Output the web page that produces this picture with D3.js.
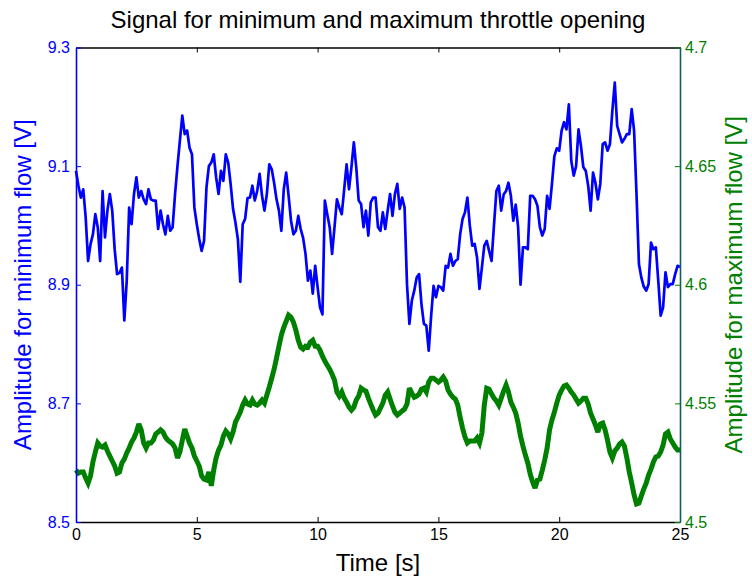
<!DOCTYPE html>
<html>
<head>
<meta charset="utf-8">
<script src="https://cdn.jsdelivr.net/npm/d3@7"></script>
<style>
  html, body { margin: 0; padding: 0; background: #fff; }
  svg { display: block; font-family: "Liberation Sans", Arial, Helvetica, sans-serif; }
</style>
</head>
<body>
<svg id="chart" width="752" height="577"></svg>
<script>
// Sampling step of both recorded signals [s]
const sampleStep = 0.1;

// Signal amplitude at minimum throttle opening [V], one value per 0.1 s from 0 to 25 s
const minFlow = [
  9.092, 9.067, 9.047, 9.061, 9.014, 8.940, 8.968, 8.985, 9.019, 8.997,
  8.940, 9.058, 8.980, 9.025, 9.053, 9.025, 8.960, 8.918, 8.920, 8.929,
  8.840, 8.907, 9.030, 9.002, 9.053, 9.081, 9.047, 9.058, 9.044, 9.036,
  9.061, 9.044, 9.042, 9.042, 8.994, 9.025, 9.002, 8.985, 9.016, 8.991,
  8.997, 9.053, 9.100, 9.143, 9.185, 9.154, 9.160, 9.131, 9.120, 9.030,
  9.002, 8.977, 8.957, 8.974, 9.064, 9.100, 9.106, 9.120, 9.081, 9.053,
  9.092, 9.075, 9.120, 9.106, 9.070, 9.028, 9.005, 8.977, 8.905, 9.002,
  9.011, 9.046, 9.047, 9.067, 9.042, 9.058, 9.087, 9.050, 9.025, 9.053,
  9.103, 9.095, 9.072, 9.044, 9.025, 8.991, 9.061, 9.089, 9.050, 9.008,
  8.985, 8.991, 9.016, 8.994, 8.979, 8.952, 8.907, 8.924, 8.885, 8.932,
  8.896, 8.862, 8.850, 9.042, 9.019, 8.997, 8.952, 8.997, 9.044, 9.030,
  9.019, 9.061, 9.103, 9.061, 9.098, 9.140, 9.098, 9.042, 9.036, 8.997,
  9.025, 8.983, 9.039, 9.047, 9.047, 8.997, 8.991, 9.022, 8.994, 9.025,
  9.053, 9.016, 9.053, 9.070, 9.028, 9.047, 9.030, 8.901, 8.834, 8.873,
  8.890, 8.912, 8.918, 8.867, 8.834, 8.831, 8.789, 8.848, 8.898, 8.879,
  8.898, 8.896, 8.890, 8.932, 8.929, 8.952, 8.932, 8.940, 8.943, 8.985,
  9.011, 9.022, 9.047, 9.000, 8.966, 8.969, 8.946, 8.893, 8.929, 8.966,
  8.974, 8.957, 8.940, 9.000, 9.058, 9.067, 9.025, 9.052, 9.058, 9.072,
  9.050, 9.008, 9.035, 8.997, 8.900, 8.963, 8.963, 8.960, 9.050, 9.050,
  9.044, 9.033, 8.997, 8.983, 8.994, 9.050, 9.028, 9.070, 9.117, 9.130,
  9.126, 9.160, 9.174, 9.162, 9.204, 9.109, 9.084, 9.100, 9.162, 9.134,
  9.098, 9.092, 9.067, 9.025, 9.089, 9.072, 9.044, 9.070, 9.137, 9.140,
  9.126, 9.137, 9.193, 9.241, 9.168, 9.154, 9.140, 9.146, 9.154, 9.154,
  9.196, 9.160, 9.053, 8.935, 8.912, 8.897, 8.890, 8.901, 8.971, 8.960,
  8.963, 8.907, 8.848, 8.862, 8.921, 8.896, 8.901, 8.901, 8.918, 8.932,
  8.930
];

// Signal amplitude at maximum throttle opening [V], one value per 0.1 s from 0 to 25 s
const maxFlow = [
  4.5219, 4.5206, 4.5211, 4.5211, 4.5185, 4.5164, 4.5194, 4.5253, 4.5295, 4.5333,
  4.5320, 4.5316, 4.5324, 4.5299, 4.5278, 4.5257, 4.5236, 4.5206, 4.5211, 4.5249,
  4.5265, 4.5291, 4.5312, 4.5337, 4.5354, 4.5379, 4.5413, 4.5388, 4.5333, 4.5312,
  4.5333, 4.5333, 4.5345, 4.5371, 4.5379, 4.5388, 4.5379, 4.5358, 4.5345, 4.5337,
  4.5329, 4.5312, 4.5270, 4.5295, 4.5345, 4.5392, 4.5362, 4.5333, 4.5312, 4.5278,
  4.5257, 4.5236, 4.5194, 4.5181, 4.5177, 4.5211, 4.5152, 4.5219, 4.5270, 4.5303,
  4.5324, 4.5362, 4.5383, 4.5371, 4.5350, 4.5379, 4.5421, 4.5442, 4.5463, 4.5493,
  4.5514, 4.5497, 4.5493, 4.5514, 4.5497, 4.5493, 4.5501, 4.5514, 4.5501, 4.5535,
  4.5569, 4.5606, 4.5644, 4.5691, 4.5741, 4.5788, 4.5821, 4.5846, 4.5872, 4.5863,
  4.5842, 4.5809, 4.5766, 4.5737, 4.5729, 4.5741, 4.5737, 4.5758, 4.5766, 4.5741,
  4.5741, 4.5724, 4.5699, 4.5678, 4.5661, 4.5644, 4.5623, 4.5598, 4.5548, 4.5531,
  4.5548, 4.5522, 4.5505, 4.5484, 4.5472, 4.5484, 4.5514, 4.5531, 4.5564, 4.5556,
  4.5552, 4.5522, 4.5497, 4.5472, 4.5451, 4.5459, 4.5480, 4.5501, 4.5535, 4.5548,
  4.5518, 4.5489, 4.5463, 4.5451, 4.5459, 4.5468, 4.5476, 4.5497, 4.5564, 4.5543,
  4.5526, 4.5531, 4.5539, 4.5560, 4.5564, 4.5548, 4.5590, 4.5606, 4.5606, 4.5598,
  4.5590, 4.5598, 4.5611, 4.5594, 4.5556, 4.5539, 4.5526, 4.5518, 4.5493, 4.5442,
  4.5396, 4.5358, 4.5333, 4.5341, 4.5341, 4.5341, 4.5354, 4.5333, 4.5375, 4.5493,
  4.5564, 4.5560, 4.5539, 4.5522, 4.5510, 4.5493, 4.5522, 4.5552, 4.5577, 4.5548,
  4.5505, 4.5484, 4.5459, 4.5417, 4.5362, 4.5320, 4.5282, 4.5249, 4.5202, 4.5169,
  4.5143, 4.5177, 4.5181, 4.5219, 4.5261, 4.5312, 4.5388, 4.5430, 4.5463, 4.5501,
  4.5535, 4.5556, 4.5573, 4.5577, 4.5564, 4.5548, 4.5535, 4.5518, 4.5501, 4.5510,
  4.5522, 4.5522, 4.5497, 4.5459, 4.5434, 4.5409, 4.5379, 4.5413, 4.5417, 4.5388,
  4.5345, 4.5295, 4.5270, 4.5299, 4.5312, 4.5329, 4.5337, 4.5320, 4.5270, 4.5211,
  4.5164, 4.5114, 4.5076, 4.5080, 4.5110, 4.5139, 4.5164, 4.5198, 4.5223, 4.5253,
  4.5274, 4.5278, 4.5295, 4.5324, 4.5371, 4.5379, 4.5350, 4.5333, 4.5316, 4.5303,
  4.5303
];

// Axis ticks and their labels
const timeTicks = [0, 5, 10, 15, 20, 25];
const minTicks = [8.5, 8.7, 8.9, 9.1, 9.3];
const minTickLabels = ["8.5", "8.7", "8.9", "9.1", "9.3"];
const maxTicks = [4.5, 4.55, 4.6, 4.65, 4.7];
const maxTickLabels = ["4.5", "4.55", "4.6", "4.65", "4.7"];

const titleText = "Signal for minimum and maximum throttle opening";
const xTitle = "Time [s]";
const yLeftTitle = "Amplitude for minimum flow [V]";
const yRightTitle = "Amplitude for maximum flow [V]";

const BLUE = "#0000ff";
const GREEN = "#008000";
const EDGE = "#0d5d62";

const plot = { left: 76, right: 680, top: 47.5, bottom: 522 };

const svg = d3.select("#chart");

const x = d3.scaleLinear().domain([0, 25]).range([plot.left, plot.right]);
const yL = d3.scaleLinear().domain([8.5, 9.3]).range([plot.bottom, plot.top]);
const yR = d3.scaleLinear().domain([4.5, 4.7]).range([plot.bottom, plot.top]);

const t = i => i * sampleStep;

// Signal traces
const lineL = d3.line().x((d, i) => x(t(i))).y(d => yL(d));
const lineR = d3.line().x((d, i) => x(t(i))).y(d => yR(d));

svg.append("path")
  .datum(maxFlow)
  .attr("d", lineR)
  .attr("fill", "none")
  .attr("stroke", GREEN)
  .attr("stroke-width", 5)
  .attr("stroke-linejoin", "miter")
  .attr("stroke-miterlimit", 3);

svg.append("path")
  .datum(minFlow)
  .attr("d", lineL)
  .attr("fill", "none")
  .attr("stroke", BLUE)
  .attr("stroke-width", 2.7)
  .attr("stroke-linejoin", "round");

// Axes: ticks drawn inward
const tickFont = 16;
const font = "Liberation Sans, Arial, sans-serif";

const gBottom = svg.append("g")
  .attr("transform", `translate(0,${plot.bottom})`)
  .call(d3.axisBottom(x).tickValues(timeTicks).tickFormat(d3.format("d"))
    .tickSizeInner(-5).tickSizeOuter(0).tickPadding(7));
gBottom.select(".domain").attr("stroke", "#000").attr("stroke-width", 1.3);
gBottom.selectAll(".tick line").attr("stroke", "#000");
gBottom.selectAll(".tick text").attr("fill", "#000").attr("font-size", tickFont)
  .attr("font-family", font);

const gTop = svg.append("g")
  .attr("transform", `translate(0,${plot.top})`)
  .call(d3.axisTop(x).tickValues(timeTicks).tickFormat("")
    .tickSizeInner(-5).tickSizeOuter(0));
gTop.select(".domain").attr("stroke", "#000").attr("stroke-width", 1.3);
gTop.selectAll(".tick line").attr("stroke", "#000");

const gLeft = svg.append("g")
  .attr("transform", `translate(${plot.left},0)`)
  .call(d3.axisLeft(yL).tickValues(minTicks).tickFormat((d, i) => minTickLabels[i])
    .tickSizeInner(-5).tickSizeOuter(0).tickPadding(6));
gLeft.select(".domain").attr("stroke", BLUE).attr("stroke-width", 1.6);
gLeft.selectAll(".tick line").attr("stroke", BLUE);
gLeft.selectAll(".tick text").attr("fill", BLUE).attr("font-size", tickFont)
  .attr("font-family", font);

const gRight = svg.append("g")
  .attr("transform", `translate(${plot.right},0)`)
  .call(d3.axisRight(yR).tickValues(maxTicks).tickFormat((d, i) => maxTickLabels[i])
    .tickSizeInner(-5).tickSizeOuter(0).tickPadding(5));
gRight.select(".domain").attr("stroke", EDGE).attr("stroke-width", 1.6);
gRight.selectAll(".tick line").attr("stroke", GREEN);
gRight.selectAll(".tick text").attr("fill", GREEN).attr("font-size", tickFont)
  .attr("font-family", font);

// Titles
const midY = (plot.top + plot.bottom) / 2;
const labelFont = 24;

svg.append("text")
  .attr("x", (plot.left + plot.right) / 2)
  .attr("y", 28)
  .attr("text-anchor", "middle")
  .attr("font-size", labelFont)
  .attr("fill", "#000")
  .text(titleText);

svg.append("text")
  .attr("x", (plot.left + plot.right) / 2)
  .attr("y", 571)
  .attr("text-anchor", "middle")
  .attr("font-size", labelFont)
  .attr("fill", "#000")
  .text(xTitle);

svg.append("text")
  .attr("transform", `translate(31,${midY}) rotate(-90)`)
  .attr("text-anchor", "middle")
  .attr("font-size", labelFont)
  .attr("fill", BLUE)
  .text(yLeftTitle);

svg.append("text")
  .attr("transform", `translate(742,${midY}) rotate(-90)`)
  .attr("text-anchor", "middle")
  .attr("font-size", labelFont)
  .attr("fill", GREEN)
  .text(yRightTitle);
</script>
</body>
</html>
